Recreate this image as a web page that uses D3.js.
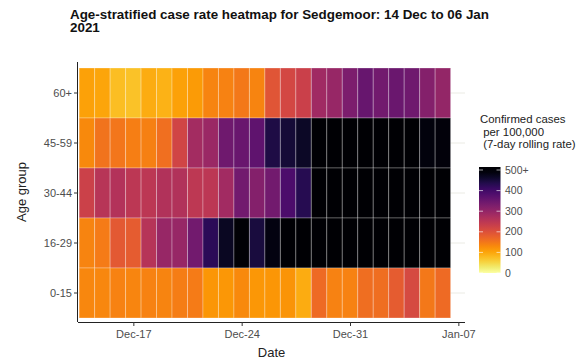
<!DOCTYPE html>
<html><head><meta charset="utf-8">
<script src="https://cdn.jsdelivr.net/npm/d3@7"></script>
<style>
html,body{margin:0;padding:0;background:#fff;}
svg{display:block;font-family:"Liberation Sans",Arial,sans-serif;}
</style></head>
<body>
<svg id="chart" width="585" height="362"></svg>
<script>
// ---- data ----
const dates = ["2020-12-14","2020-12-15","2020-12-16","2020-12-17","2020-12-18","2020-12-19","2020-12-20","2020-12-21","2020-12-22","2020-12-23","2020-12-24","2020-12-25","2020-12-26","2020-12-27","2020-12-28","2020-12-29","2020-12-30","2020-12-31","2021-01-01","2021-01-02","2021-01-03","2021-01-04","2021-01-05","2021-01-06"];
const ageGroups = ["60+","45-59","30-44","16-29","0-15"];
const rate60plus = [105,100,75,72,92,87,105,110,135,138,150,135,195,215,230,285,295,330,355,340,350,345,320,300];
const rate45to59 = [130,155,152,142,140,160,220,280,292,345,352,365,440,452,465,550,550,550,550,550,550,550,490,492];
const rate30to44 = [228,255,260,250,250,262,262,248,250,283,340,320,340,388,430,550,550,550,550,550,550,550,550,550];
const rate16to29 = [135,145,188,185,256,295,295,340,425,470,495,447,485,550,550,550,550,550,550,550,550,550,550,550];
const rate0to15 = [132,132,138,133,138,135,143,146,117,115,130,115,117,118,92,165,138,138,162,162,185,212,150,165];
const xTickDates = ["2020-12-17","2020-12-24","2020-12-31","2021-01-07"];
const legendTicks = [0,100,200,300,400,500];
const legendLabels = ["0","100","200","300","400","500+"];
const titleLines = ["Age-stratified case rate heatmap for Sedgemoor: 14 Dec to 06 Jan","2021"];
const legendTitle = ["Confirmed cases"," per 100,000"," (7-day rolling rate)"];

const seriesByGroup = {"60+":rate60plus,"45-59":rate45to59,"30-44":rate30to44,"16-29":rate16to29,"0-15":rate0to15};
const parse = d3.utcParse("%Y-%m-%d");
const cells = [];
ageGroups.forEach(g => seriesByGroup[g].forEach((v,i) => cells.push({group:g, date:parse(dates[i]), value:v})));

// ---- layout ----
const svg = d3.select("#chart");
const panel = {left:78, right:465, top:62, bottom:322};
const day = 864e5;
const x = d3.scaleUtc()
  .domain([new Date(parse(dates[0]).getTime() - 0.575*day), new Date(parse("2021-01-07").getTime() + 0.43*day)])
  .range([panel.left, panel.right]);
const y = d3.scaleBand().domain(ageGroups).range([68, 318]).padding(0);
const color = v => d3.interpolateInferno(1 - Math.max(0, Math.min(500, v))/500);

// grid lines
svg.append("g").selectAll("line").data(ageGroups).join("line")
  .attr("x1", panel.left).attr("x2", panel.right)
  .attr("y1", d => y(d) + y.bandwidth()/2).attr("y2", d => y(d) + y.bandwidth()/2)
  .attr("stroke", "#ebebe4").attr("stroke-width", 1);

// tiles
svg.append("g").selectAll("rect").data(cells).join("rect")
  .attr("x", d => x(new Date(d.date.getTime() - day/2)))
  .attr("width", d => x(new Date(d.date.getTime() + day/2)) - x(new Date(d.date.getTime() - day/2)))
  .attr("y", d => y(d.group))
  .attr("height", y.bandwidth())
  .attr("fill", d => color(d.value))
  .attr("stroke", "rgba(255,255,255,0.28)")
  .attr("stroke-width", 1);

// axes
const xAxis = d3.axisBottom(x).tickValues(xTickDates.map(parse)).tickFormat(d3.utcFormat("%b-%d")).tickSize(4).tickSizeOuter(0);
const gx = svg.append("g").attr("transform", `translate(0,${panel.bottom})`).call(xAxis);
gx.select(".domain").attr("stroke", "#222").attr("d", `M${panel.left},0.5H${panel.right}`);
gx.selectAll(".tick line").attr("stroke", "#333");
gx.selectAll(".tick text").attr("fill", "#4d4d4d").attr("font-size", 11).attr("dy", "0.71em").attr("y", 8.5);

const yAxis = d3.axisLeft(y).tickSize(4).tickSizeOuter(0);
const gy = svg.append("g").attr("transform", `translate(${panel.left},0)`).call(yAxis);
gy.select(".domain").attr("stroke", "#222").attr("d", `M-0.5,${panel.top}V${panel.bottom}`);
gy.selectAll(".tick line").attr("stroke", "#333");
gy.selectAll(".tick text").attr("fill", "#4d4d4d").attr("font-size", 11).attr("x", -6);
svg.selectAll(".tick text").attr("font-family", "Liberation Sans, Arial, sans-serif");

// axis titles
svg.append("text").attr("x", (panel.left + panel.right)/2).attr("y", 357)
  .attr("text-anchor", "middle").attr("font-size", 13).attr("fill", "#222").text("Date");
svg.append("text").attr("transform", `translate(25.5,${(panel.top+panel.bottom)/2}) rotate(-90)`)
  .attr("text-anchor", "middle").attr("font-size", 13).attr("fill", "#222").text("Age group");

// title
svg.append("g").selectAll("text").data(titleLines).join("text")
  .attr("x", 70).attr("y", (d,i) => 18.5 + i*13.6)
  .attr("font-size", 13.4).attr("font-weight", "bold").attr("fill", "#111").text(d => d);

// legend
svg.append("g").selectAll("text").data(legendTitle).join("text")
  .attr("x", 480).attr("y", (d,i) => 123 + i*12.5)
  .attr("font-size", 11.4).attr("fill", "#222").attr("xml:space","preserve").style("white-space","pre").text(d => d);

const ly = d3.scaleLinear().domain([0, 500]).range([273, 170]);
const barTop = 167, barX = 479, barW = 21.5;
const topVal = ly.invert(barTop);
const defs = svg.append("defs");
const grad = defs.append("linearGradient").attr("id", "lg").attr("x1", 0).attr("y1", 1).attr("x2", 0).attr("y2", 0);
d3.range(0, 21).forEach(k => {
  const v = topVal * k / 20;
  grad.append("stop").attr("offset", k/20).attr("stop-color", color(v));
});
svg.append("rect").attr("x", barX).attr("y", barTop).attr("width", barW).attr("height", ly(0) - barTop).attr("fill", "url(#lg)");
const lt = svg.append("g");
lt.selectAll("line.l").data(legendTicks).join("line")
  .attr("x1", barX).attr("x2", barX + 4).attr("y1", d => ly(d)).attr("y2", d => ly(d))
  .attr("stroke", "rgba(255,255,255,0.8)").attr("stroke-width", 0.8);
lt.selectAll("line.r").data(legendTicks).join("line")
  .attr("x1", barX + barW - 4).attr("x2", barX + barW).attr("y1", d => ly(d)).attr("y2", d => ly(d))
  .attr("stroke", "rgba(255,255,255,0.8)").attr("stroke-width", 0.8);
lt.selectAll("text").data(legendTicks).join("text")
  .attr("x", 505).attr("y", d => ly(d)).attr("dy", "0.35em")
  .attr("font-size", 10.5).attr("fill", "#4d4d4d").text((d,i) => legendLabels[i]);
</script>
</body></html>
